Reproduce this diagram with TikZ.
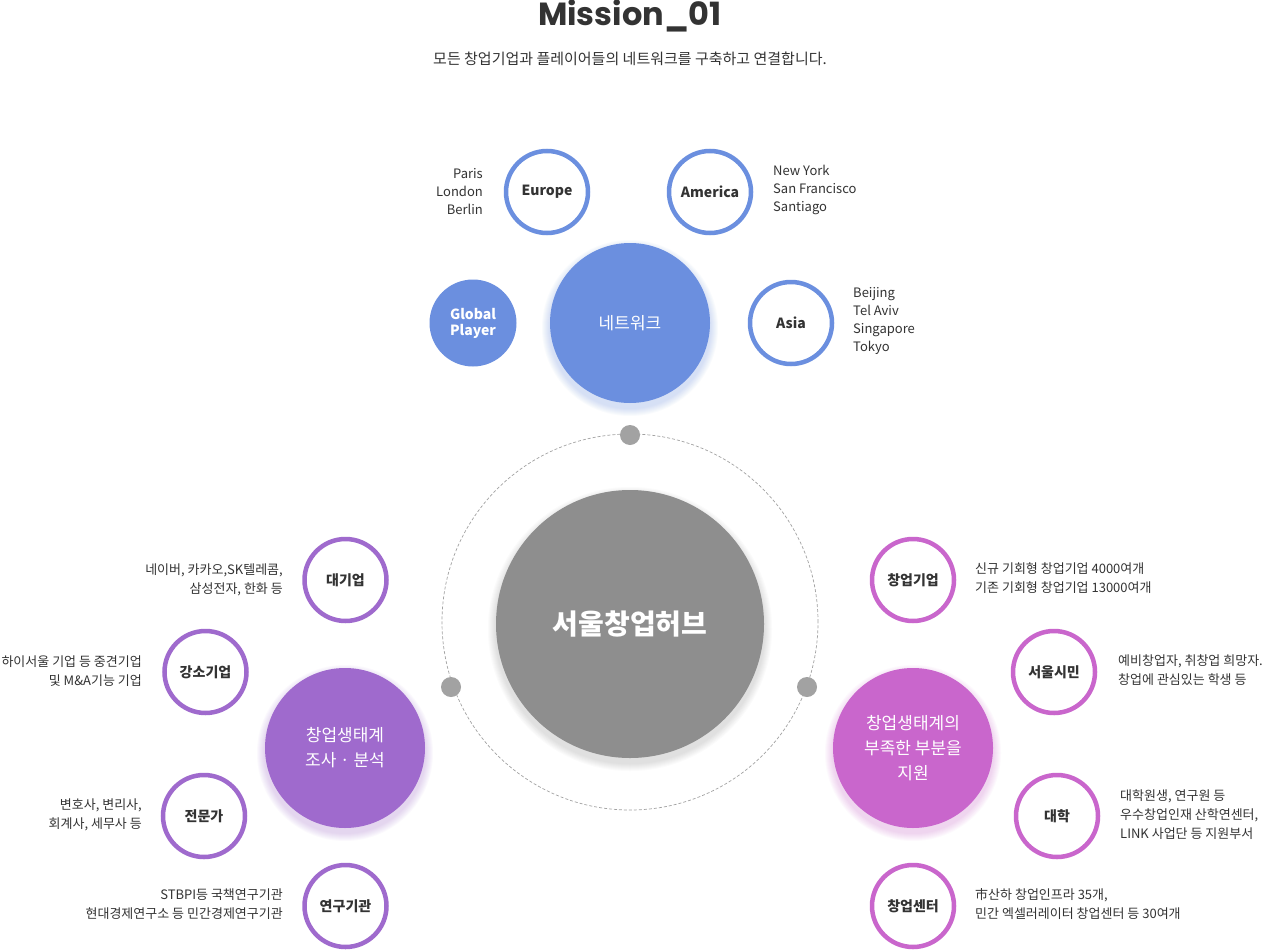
\documentclass[tikz,border=0pt]{standalone}
\usepackage{fontspec}
\setmainfont{Noto Sans CJK KR}
\newfontfamily\popfont{Poppins}
\definecolor{netblue}{HTML}{6B8FDF}
\definecolor{lpurple}{HTML}{9F6ACD}
\definecolor{rpurple}{HTML}{C966CC}
\definecolor{hubgray}{HTML}{8E8E8E}
\definecolor{dotgray}{HTML}{A2A2A2}
\definecolor{txt}{HTML}{333333}
\begin{document}
\begin{tikzpicture}[x=1pt,y=-1pt,
  ring/.style={circle, draw=#1, line width=4.5pt, fill=white, minimum size=82pt, inner sep=0pt,
    text=txt, font=\fontsize{14}{16}\selectfont\bfseries},
  bigc/.style={circle, fill=#1, minimum size=160pt, inner sep=0pt, text=white, align=center,
    font=\fontsize{17}{25}\selectfont},
  lblr/.style={anchor=east, align=right, inner sep=0pt, text=txt, font=\fontsize{13}{19}\selectfont},
  lbll/.style={anchor=west, align=left, inner sep=0pt, text=txt, font=\fontsize{13}{19}\selectfont},
  tight/.style={font=\fontsize{13}{18}\selectfont},
  dotc/.style={circle, fill=dotgray, minimum size=20pt, inner sep=0pt}
]
\useasboundingbox (0,0) rectangle (1263,950);
\fill[white] (0,0) rectangle (1263,950);

% title
\node[text=txt, font=\popfont\fontsize{32}{34}\selectfont\bfseries, inner sep=0pt] (title) at (630,16) {Mission\_01};
\node[text=txt, font=\fontsize{15}{17}\selectfont, inner sep=0pt] (sub) at (630,59) {모든 창업기업과 플레이어들의 네트워크를 구축하고 연결합니다.};

% soft shadows
\foreach \cc/\px/\py/\rr in {netblue/630/323/80, lpurple/345/748/80, rpurple/913/748/80, hubgray/630/624/134}{
  \foreach \i in {1,...,8}{
    \fill[\cc, opacity=0.035] (\px,\py+5) circle ({\rr pt+\i pt});
  }
}

% dashed orbit
\node[circle, draw=dotgray, dash pattern=on 3pt off 2pt, line width=0.7pt, minimum size=376pt, inner sep=0pt] (orbit) at (630,622) {};
\node[dotc] (dtop) at (630,435) {};
\node[dotc] (dleft) at (451,687) {};
\node[dotc] (dright) at (807,687) {};

% hub
\node[circle, fill=hubgray, minimum size=268pt, inner sep=0pt, text=white,
  font=\fontsize{28}{32}\selectfont\bfseries] (hub) at (630,624) {서울창업허브};

% network cluster
\node[bigc=netblue] (net) at (630,323) {네트워크};
\node[circle, fill=netblue, minimum size=87pt, inner sep=0pt, text=white, align=center,
  font=\fontsize{14}{16}\selectfont\bfseries] (gp) at (473,323) {Global\\Player};
\node[ring=netblue] (eu) at (547,192) {Europe};
\node[ring=netblue] (am) at (710,192) {America};
\node[ring=netblue] (as) at (791,323) {Asia};
\node[lblr, tight] (eut) at (483,192) {Paris\\London\\Berlin};
\node[lbll, tight] (amt) at (773,190) {New York\\San Francisco\\Santiago};
\node[lbll, tight] (ast) at (853,321) {Beijing\\Tel Aviv\\Singapore\\Tokyo};

% left cluster
\node[bigc=lpurple] (lb) at (345,748) {창업생태계\\조사 · 분석};
\node[ring=lpurple] (l1) at (345.5,580) {대기업};
\node[ring=lpurple] (l2) at (205.5,672) {강소기업};
\node[ring=lpurple] (l3) at (204,816) {전문가};
\node[ring=lpurple] (l4) at (345.5,906) {연구기관};
\node[lblr] (l1t) at (283,579.5) {네이버, 카카오,SK텔레콤,\\삼성전자, 한화 등};
\node[lblr] (l2t) at (142,671) {하이서울 기업 등 중견기업\\및 M\&A기능 기업};
\node[lblr] (l3t) at (142,814.5) {변호사, 변리사,\\회계사, 세무사 등};
\node[lblr] (l4t) at (283,904) {STBPI등 국책연구기관\\현대경제연구소 등 민간경제연구기관};

% right cluster
\node[bigc=rpurple] (rb) at (913,748) {창업생태계의\\부족한 부분을\\지원};
\node[ring=rpurple] (r1) at (913,580) {창업기업};
\node[ring=rpurple] (r2) at (1054,672) {서울시민};
\node[ring=rpurple] (r3) at (1057,816) {대학};
\node[ring=rpurple] (r4) at (913,906) {창업센터};
\node[lbll] (r1t) at (975,578) {신규 기회형 창업기업 4000여개\\기존 기회형 창업기업 13000여개};
\node[lbll] (r2t) at (1118,670.5) {예비창업자, 취창업 희망자.\\창업에 관심있는 학생 등};
\node[lbll] (r3t) at (1120,815) {대학원생, 연구원 등\\우수창업인재 산학연센터,\\LINK 사업단 등 지원부서};
\node[lbll] (r4t) at (975,904.5) {市산하 창업인프라 35개,\\민간 엑셀러레이터 창업센터 등 30여개};
\end{tikzpicture}
\end{document}
